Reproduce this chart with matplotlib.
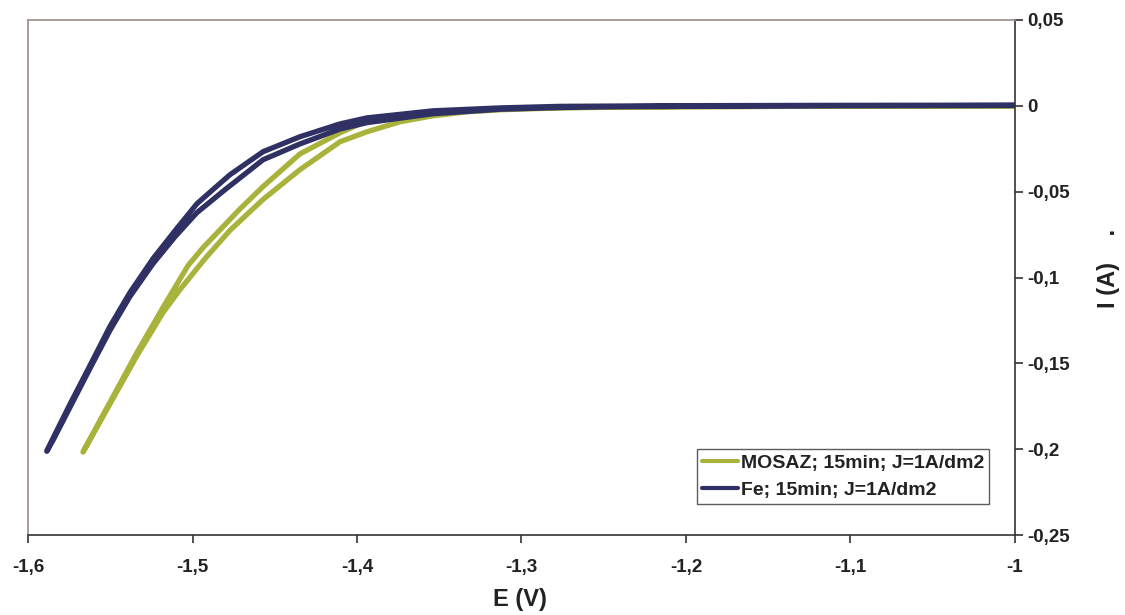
import matplotlib
matplotlib.use("Agg")
import matplotlib.pyplot as plt

plt.rcParams['font.family'] = ['Liberation Sans', 'DejaVu Sans']

# MOSAZ loop: outer branch (upper-left) going out, inner branch (lower-right) coming back
mosaz_E_out = [-1.0, -1.1, -1.2, -1.2766, -1.3131, -1.3331, -1.3538, -1.3739, -1.3939,
               -1.4103, -1.4347, -1.4571, -1.4711, -1.4936, -1.5027, -1.5179, -1.5337,
               -1.5459, -1.5581, -1.5666]
mosaz_I_out = [0.0, -0.0002, -0.0005, -0.0010, -0.0017, -0.0029, -0.0035, -0.0058, -0.0087,
               -0.0157, -0.0280, -0.0470, -0.0600, -0.0826, -0.0930, -0.1174, -0.1436,
               -0.1651, -0.1866, -0.2017]
mosaz_E_in = [-1.5666, -1.5581, -1.5459, -1.5337, -1.5179, -1.5076, -1.4924, -1.4772,
              -1.4571, -1.4347, -1.4103, -1.3939, -1.3739, -1.3538, -1.3331, -1.3131,
              -1.2766, -1.2401, -1.2, -1.1, -1.0]
mosaz_I_in = [-0.2017, -0.1872, -0.1663, -0.1454, -0.1204, -0.1070, -0.0890, -0.0725,
              -0.0545, -0.0372, -0.0209, -0.0151, -0.0093, -0.0058, -0.0035, -0.0023,
              -0.0012, -0.0008, -0.0005, -0.0002, 0.0]

# Fe loop
fe_E_out = [-1.0, -1.1, -1.2, -1.2766, -1.3131, -1.3538, -1.3939, -1.4103, -1.4347,
            -1.4571, -1.4772, -1.4863, -1.4973, -1.5106, -1.5240, -1.5380, -1.5502,
            -1.5623, -1.5745, -1.5848, -1.5886]
fe_I_out = [0.0004, 0.0003, 0.0001, -0.0003, -0.0012, -0.0029, -0.0070, -0.0105, -0.0180,
            -0.0267, -0.0401, -0.0477, -0.0570, -0.0727, -0.0890, -0.1087, -0.1285,
            -0.1512, -0.1738, -0.1936, -0.2012]
fe_E_in = [-1.5886, -1.5848, -1.5745, -1.5623, -1.5502, -1.5380, -1.5240, -1.5106,
           -1.4973, -1.4802, -1.4571, -1.4347, -1.4103, -1.3939, -1.3538, -1.3131,
           -1.2766, -1.2401, -1.2, -1.1, -1.0]
fe_I_in = [-0.2012, -0.1948, -0.1756, -0.1529, -0.1308, -0.1110, -0.0919, -0.0762,
           -0.0622, -0.0488, -0.0314, -0.0222, -0.0135, -0.0098, -0.0046, -0.0020,
           -0.0010, -0.0005, -0.0003, 0.0, 0.0002]

x_ticks = [-1.6, -1.5, -1.4, -1.3, -1.2, -1.1, -1.0]
x_labels = ['-1,6', '-1,5', '-1,4', '-1,3', '-1,2', '-1,1', '-1']
y_ticks = [0.05, 0.0, -0.05, -0.1, -0.15, -0.2, -0.25]
y_labels = ['0,05', '0', '-0,05', '-0,1', '-0,15', '-0,2', '-0,25']

mosaz_color = '#A9B23A'
fe_color = '#2F3164'

fig = plt.figure(figsize=(11.25, 6.15), dpi=100)
ax = fig.add_axes([0.0249, 0.130, 0.8773, 0.8375])

ax.plot(mosaz_E_out + mosaz_E_in, mosaz_I_out + mosaz_I_in, color=mosaz_color, lw=3.8,
        solid_capstyle='round', solid_joinstyle='round', label='MOSAZ; 15min; J=1A/dm2')
ax.plot(fe_E_out + fe_E_in, fe_I_out + fe_I_in, color=fe_color, lw=3.8,
        solid_capstyle='round', solid_joinstyle='round', label='Fe; 15min; J=1A/dm2')

ax.set_xlim(-1.6, -1.0)
ax.set_ylim(-0.25, 0.05)
ax.set_xticks(x_ticks)
ax.set_xticklabels(x_labels)
ax.set_yticks(y_ticks)
ax.set_yticklabels(y_labels)
ax.yaxis.tick_right()

for lab in ax.get_xticklabels() + ax.get_yticklabels():
    lab.set_fontweight('bold')
    lab.set_fontsize(13.5)
    lab.set_color('#222222')
ax.tick_params(axis='both', direction='out', length=6, width=1.2, color='#333333')
ax.tick_params(axis='x', pad=11)
ax.tick_params(axis='y', pad=3)

ax.spines['left'].set_color('#9A8C88')
ax.spines['top'].set_color('#9A8C88')
ax.spines['right'].set_color('#333333')
ax.spines['bottom'].set_color('#333333')
for s in ax.spines.values():
    s.set_linewidth(1.2)

fig.text(0.462, 0.025, 'E (V)', fontsize=17, fontweight='bold', ha='center', va='center', color='#222222')
fig.text(0.985, 0.5634, 'I (A)    .', fontsize=17, fontweight='bold', rotation=90,
         ha='center', va='center', color='#222222')

leg = ax.legend(loc='lower right', bbox_to_anchor=(0.9737, 0.0602),
                prop={'weight': 'bold', 'size': 14}, frameon=True, fancybox=False,
                handlelength=1.85, handletextpad=0.15, borderpad=0.25, labelspacing=0.5,
                borderaxespad=0)
leg.get_frame().set_edgecolor('#333333')
leg.get_frame().set_linewidth(1.0)
for h in leg.legend_handles:
    h.set_linewidth(3)
for t in leg.get_texts():
    t.set_color('#222222')

fig.savefig('out.png', dpi=100)
